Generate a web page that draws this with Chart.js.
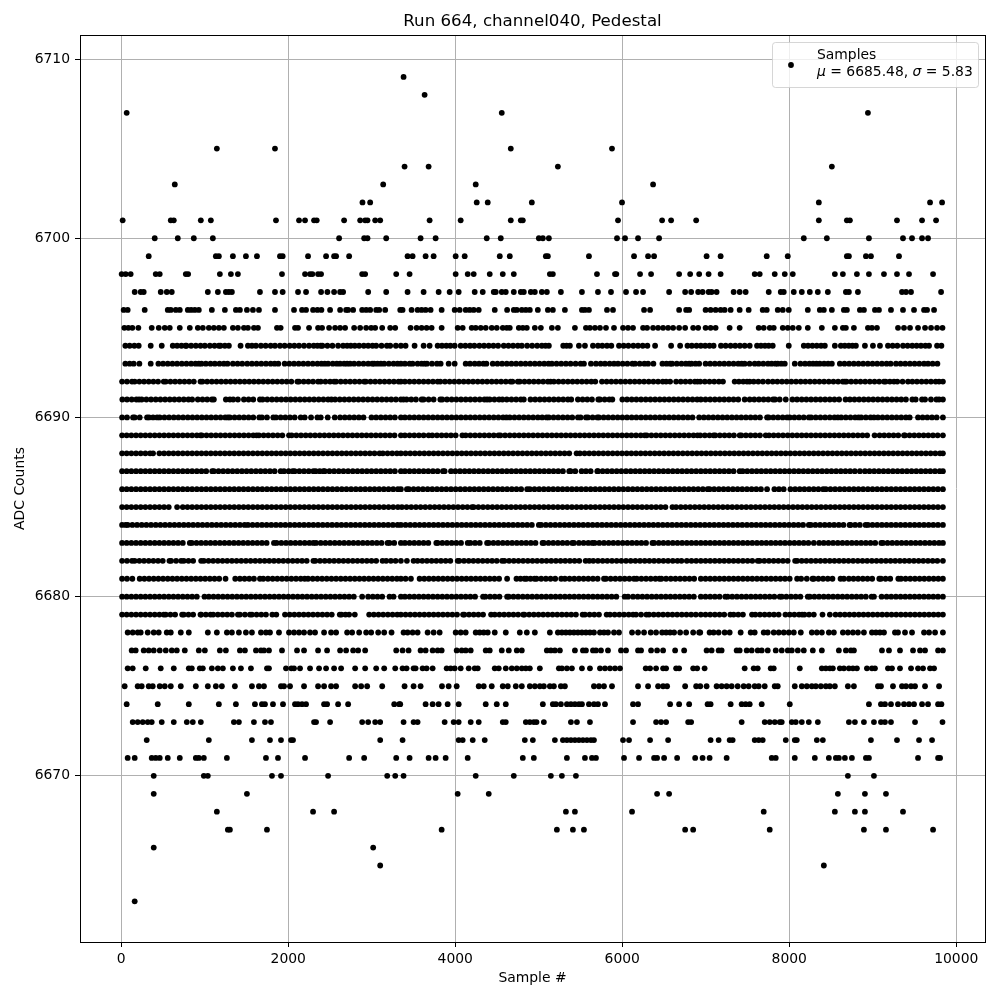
<!DOCTYPE html>
<html>
<head>
<meta charset="utf-8">
<title>Pedestal</title>
<script src="https://cdn.jsdelivr.net/npm/chart.js@4/dist/chart.umd.min.js"></script>
<style>
  html, body { margin: 0; padding: 0; background: #fff; }
  canvas { display: block; }
</style>
</head>
<body>
<canvas id="pedestalChart" width="1000" height="1000"></canvas>
<script>
const xTicks = [0, 2000, 4000, 6000, 8000, 10000];
const yTicks = [6670, 6680, 6690, 6700, 6710];

// sample numbers, one list per ADC count
const adc6709 = [3381];
const adc6708 = [3633];
const adc6707 = [65, 4557, 8942];
const adc6705 = [1145, 1841, 4665, 5877];
const adc6704 = [3393, 3681, 5229, 8510];
const adc6703 = [641, 3137, 4245, 6369];
const adc6702 = [2889, 2981, 4257, 4389, 4917, 5997, 8354, 9686, 9830];
const adc6701 = [17, 593, 629, 953, 1073, 1853, 2129, 2201, 2309, 2341, 2669, 2861, 2921, 2949, 3041, 3101, 3693, 4065, 4665, 4785, 4809, 5949, 6477, 6585, 6885, 8354, 8690, 8726, 9290, 9590, 9758];
const adc6700 = [401, 677, 869, 1097, 2609, 2909, 2949, 3173, 3585, 3765, 4377, 4545, 5001, 5049, 5121, 5937, 6033, 6189, 6441, 8174, 8450, 8954, 9362, 9470, 9590, 9662];
const adc6699 = [329, 1133, 1169, 1337, 1493, 1625, 1901, 1933, 2237, 2453, 2549, 2573, 2729, 3429, 3489, 3645, 3741, 4005, 4113, 4533, 4653, 5085, 5109, 5601, 6141, 6309, 6381, 7010, 7178, 7730, 7982, 8690, 8714, 8918, 8978, 9314];
const adc6698 = [5, 53, 113, 413, 461, 773, 801, 1181, 1313, 1397, 1925, 2201, 2261, 2289, 2357, 2393, 2885, 2921, 3293, 3453, 4005, 4149, 4221, 4413, 4569, 4701, 5133, 5169, 5697, 5913, 5929, 6213, 6345, 6681, 6813, 6921, 7034, 7178, 7586, 7646, 7826, 7946, 8042, 8546, 8642, 8810, 8954, 9134, 9290, 9434, 9722];
const adc6697 = [161, 233, 269, 473, 545, 605, 1037, 1157, 1253, 1289, 1325, 1661, 1841, 1933, 2117, 2213, 2393, 2469, 2549, 2621, 2657, 2957, 3173, 3429, 3621, 3801, 3933, 4041, 4233, 4329, 4461, 4485, 4557, 4605, 4701, 4785, 4821, 4905, 4953, 5037, 5097, 5265, 5517, 5709, 5865, 6045, 6165, 6249, 6561, 6753, 6825, 6909, 6962, 7034, 7070, 7130, 7334, 7406, 7478, 7754, 7898, 7934, 8054, 8150, 8246, 8342, 8462, 8678, 8714, 8822, 9350, 9398, 9458, 9818];
const adc6696 = [29, 77, 281, 557, 593, 653, 701, 797, 837, 881, 929, 1085, 1241, 1373, 1421, 1505, 1577, 1649, 1841, 2069, 2165, 2213, 2297, 2349, 2397, 2501, 2621, 2693, 2717, 2777, 2885, 2933, 2981, 3053, 3089, 3161, 3341, 3369, 3477, 3549, 3597, 3645, 3705, 3837, 3993, 4053, 4125, 4173, 4221, 4281, 4473, 4621, 4701, 4737, 4797, 4845, 4893, 4989, 5109, 5169, 5313, 5517, 5553, 5601, 5817, 5889, 6261, 6333, 6681, 6765, 6801, 6998, 7058, 7118, 7178, 7226, 7298, 7406, 7514, 7682, 7730, 7862, 7922, 7994, 8222, 8366, 8414, 8510, 8654, 8690, 8846, 8894, 9026, 9074, 9218, 9362, 9494, 9614, 9650, 9734];
const adc6695 = [37, 85, 133, 205, 365, 449, 521, 581, 701, 821, 917, 977, 1049, 1109, 1169, 1229, 1337, 1397, 1469, 1517, 1589, 1637, 1865, 1909, 2081, 2117, 2249, 2357, 2405, 2489, 2561, 2621, 2681, 2789, 2861, 2933, 2993, 3041, 3125, 3221, 3281, 3465, 3537, 3597, 3657, 3717, 3837, 4029, 4089, 4197, 4245, 4305, 4365, 4437, 4497, 4569, 4617, 4653, 4761, 4809, 4857, 4953, 5025, 5157, 5229, 5433, 5565, 5613, 5673, 5733, 5805, 5901, 6009, 6069, 6129, 6249, 6297, 6369, 6429, 6489, 6549, 6609, 6681, 6753, 6849, 6909, 6998, 7058, 7118, 7286, 7406, 7634, 7694, 7766, 7814, 7922, 7982, 8042, 8114, 8222, 8390, 8546, 8642, 8678, 8774, 8942, 8990, 9050, 9302, 9374, 9446, 9542, 9626, 9698, 9770, 9835];
const adc6694 = [49, 101, 157, 209, 353, 485, 617, 669, 721, 769, 781, 837, 893, 949, 1001, 1061, 1117, 1169, 1189, 1241, 1289, 1429, 1517, 1565, 1613, 1673, 1729, 1789, 1841, 1901, 1957, 2017, 2073, 2129, 2189, 2249, 2305, 2349, 2389, 2409, 2469, 2529, 2597, 2657, 2705, 2749, 2797, 2849, 2905, 2957, 3009, 3053, 3117, 3181, 3221, 3289, 3349, 3405, 3513, 3621, 3693, 3789, 3841, 3893, 3941, 3993, 4065, 4121, 4177, 4229, 4289, 4345, 4401, 4457, 4513, 4581, 4637, 4693, 4749, 4797, 4861, 4921, 4981, 5037, 5081, 5121, 5293, 5333, 5373, 5481, 5553, 5649, 5709, 5761, 5817, 5869, 5961, 6017, 6073, 6133, 6189, 6245, 6301, 6393, 6585, 6693, 6781, 6833, 6889, 6941, 6993, 7045, 7094, 7182, 7238, 7297, 7353, 7409, 7466, 7526, 7614, 7661, 7709, 7754, 7802, 7994, 8174, 8225, 8277, 8329, 8381, 8426, 8546, 8618, 8665, 8713, 8757, 8798, 8906, 9002, 9086, 9182, 9238, 9294, 9362, 9417, 9473, 9525, 9577, 9630, 9674, 9770, 9822];
const adc6693 = [49, 101, 149, 217, 353, 445, 501, 557, 613, 669, 725, 781, 837, 889, 929, 961, 1013, 1069, 1121, 1177, 1229, 1273, 1337, 1393, 1449, 1509, 1565, 1621, 1677, 1733, 1789, 1837, 1881, 1957, 2013, 2069, 2125, 2181, 2237, 2293, 2349, 2397, 2437, 2477, 2533, 2581, 2621, 2669, 2705, 2741, 2789, 2845, 2901, 2957, 3005, 3029, 3069, 3109, 3149, 3205, 3261, 3309, 3349, 3397, 3453, 3489, 3549, 3597, 3633, 3661, 3721, 3781, 3825, 3921, 3993, 4125, 4177, 4233, 4285, 4337, 4373, 4449, 4505, 4561, 4617, 4673, 4729, 4785, 4841, 4897, 4953, 5009, 5065, 5117, 5157, 5213, 5269, 5325, 5381, 5441, 5501, 5541, 5625, 5685, 5741, 5793, 5849, 5901, 5949, 6005, 6061, 6121, 6153, 6209, 6265, 6309, 6373, 6481, 6529, 6573, 6597, 6653, 6709, 6761, 6801, 6829, 6877, 6921, 6998, 7053, 7109, 7165, 7221, 7277, 7333, 7389, 7430, 7466, 7525, 7586, 7634, 7689, 7745, 7789, 7834, 7862, 7905, 7946, 8066, 8134, 8189, 8241, 8285, 8326, 8366, 8417, 8465, 8510, 8606, 8661, 8717, 8773, 8829, 8885, 8941, 8997, 9053, 9109, 9165, 9214, 9278, 9333, 9389, 9445, 9501, 9557, 9614, 9662, 9717, 9774];
const adc6692 = [10, 69, 129, 161, 217, 273, 329, 385, 441, 509, 533, 589, 645, 701, 757, 813, 869, 949, 973, 1029, 1085, 1141, 1197, 1253, 1309, 1365, 1421, 1477, 1533, 1589, 1645, 1701, 1757, 1813, 1869, 1925, 1981, 2037, 2109, 2129, 2185, 2241, 2297, 2357, 2389, 2445, 2501, 2549, 2573, 2629, 2685, 2741, 2797, 2853, 2909, 2929, 2985, 3041, 3097, 3153, 3209, 3265, 3321, 3349, 3397, 3453, 3509, 3565, 3621, 3677, 3733, 3789, 3821, 3877, 3933, 3989, 4045, 4101, 4157, 4213, 4269, 4325, 4381, 4437, 4493, 4549, 4605, 4661, 4685, 4749, 4773, 4829, 4885, 4941, 4997, 5053, 5109, 5141, 5181, 5237, 5293, 5349, 5405, 5461, 5517, 5573, 5629, 5677, 5757, 5813, 5869, 5925, 5981, 6037, 6093, 6149, 6205, 6261, 6317, 6373, 6429, 6485, 6525, 6573, 6645, 6701, 6757, 6813, 6869, 6901, 6934, 6989, 7045, 7101, 7157, 7206, 7346, 7397, 7449, 7494, 7526, 7574, 7629, 7685, 7746, 7802, 7857, 7913, 7969, 8025, 8081, 8137, 8193, 8249, 8305, 8361, 8417, 8473, 8529, 8585, 8641, 8666, 8686, 8741, 8797, 8853, 8909, 8965, 9021, 9077, 9134, 9154, 9205, 9254, 9294, 9357, 9422, 9474, 9529, 9585, 9641, 9697, 9753, 9794, 9840];
const adc6691 = [13, 69, 125, 181, 213, 245, 301, 357, 413, 469, 525, 581, 637, 693, 749, 805, 849, 917, 973, 1029, 1085, 1109, 1253, 1301, 1341, 1397, 1469, 1525, 1581, 1661, 1693, 1749, 1805, 1861, 1917, 1973, 2029, 2085, 2141, 2197, 2253, 2309, 2365, 2421, 2477, 2517, 2561, 2617, 2673, 2729, 2785, 2841, 2897, 2953, 3009, 3065, 3121, 3177, 3233, 3289, 3349, 3381, 3417, 3473, 3529, 3597, 3621, 3681, 3741, 3821, 3845, 3901, 3957, 4013, 4069, 4125, 4181, 4237, 4293, 4349, 4381, 4413, 4469, 4525, 4565, 4617, 4673, 4729, 4785, 4821, 4901, 4957, 5013, 5069, 5125, 5181, 5237, 5293, 5349, 5389, 5469, 5525, 5581, 5637, 5713, 5733, 5789, 5845, 5881, 6001, 6057, 6113, 6169, 6225, 6281, 6337, 6393, 6449, 6505, 6561, 6617, 6673, 6729, 6785, 6841, 6897, 6941, 6997, 7053, 7109, 7165, 7221, 7277, 7333, 7389, 7466, 7526, 7581, 7637, 7693, 7749, 7806, 7830, 7885, 7958, 8038, 8093, 8149, 8205, 8261, 8317, 8373, 8429, 8485, 8541, 8597, 8674, 8726, 8781, 8837, 8893, 8949, 9005, 9061, 9117, 9173, 9229, 9285, 9341, 9397, 9474, 9514, 9590, 9626, 9697, 9762, 9794, 9840];
const adc6690 = [10, 69, 141, 161, 221, 309, 333, 381, 429, 461, 517, 573, 629, 685, 741, 797, 853, 909, 965, 1021, 1077, 1133, 1189, 1245, 1277, 1301, 1357, 1413, 1469, 1525, 1581, 1653, 1685, 1745, 1821, 1853, 1909, 1965, 2021, 2077, 2149, 2197, 2273, 2349, 2389, 2473, 2557, 2621, 2677, 2733, 2789, 2845, 2901, 2997, 3053, 3109, 3165, 3221, 3277, 3349, 3397, 3453, 3509, 3565, 3621, 3677, 3733, 3789, 3845, 3901, 3957, 4013, 4069, 4125, 4181, 4237, 4293, 4349, 4405, 4461, 4517, 4573, 4613, 4653, 4709, 4765, 4821, 4877, 4933, 4989, 5041, 5093, 5121, 5177, 5233, 5289, 5345, 5401, 5469, 5501, 5565, 5589, 5645, 5701, 5721, 5777, 5833, 5889, 5945, 6001, 6057, 6113, 6169, 6225, 6281, 6337, 6393, 6449, 6505, 6561, 6617, 6673, 6729, 6785, 6841, 6921, 6977, 7033, 7089, 7145, 7201, 7257, 7313, 7369, 7425, 7481, 7537, 7593, 7649, 7734, 7754, 7809, 7865, 7921, 7974, 8006, 8061, 8117, 8173, 8234, 8262, 8317, 8373, 8429, 8485, 8541, 8582, 8622, 8677, 8733, 8789, 8830, 8862, 8917, 8973, 9014, 9062, 9117, 9173, 9229, 9285, 9341, 9397, 9442, 9542, 9597, 9653, 9709, 9765, 9840];
const adc6689 = [10, 65, 121, 177, 233, 289, 345, 401, 457, 513, 569, 625, 681, 737, 793, 849, 905, 949, 965, 1021, 1077, 1133, 1189, 1245, 1301, 1357, 1413, 1469, 1525, 1581, 1621, 1649, 1705, 1761, 1817, 1873, 1929, 2009, 2041, 2097, 2153, 2209, 2265, 2321, 2377, 2433, 2489, 2545, 2601, 2657, 2713, 2769, 2825, 2881, 2937, 2993, 3049, 3105, 3161, 3217, 3273, 3349, 3397, 3453, 3509, 3565, 3621, 3681, 3725, 3781, 3837, 3893, 3949, 4005, 4085, 4125, 4181, 4237, 4293, 4349, 4405, 4461, 4517, 4541, 4597, 4653, 4709, 4765, 4821, 4877, 4933, 4989, 5045, 5101, 5157, 5213, 5269, 5325, 5381, 5437, 5493, 5549, 5605, 5661, 5717, 5773, 5829, 5885, 5941, 5997, 6053, 6109, 6165, 6221, 6269, 6293, 6349, 6405, 6461, 6517, 6573, 6629, 6685, 6741, 6797, 6853, 6901, 6934, 6989, 7045, 7094, 7114, 7169, 7225, 7281, 7337, 7406, 7426, 7481, 7537, 7593, 7649, 7718, 7758, 7813, 7869, 7925, 7981, 8037, 8093, 8149, 8205, 8261, 8317, 8373, 8429, 8485, 8541, 8597, 8653, 8709, 8765, 8821, 8877, 8933, 9022, 9082, 9137, 9193, 9249, 9305, 9374, 9386, 9441, 9497, 9553, 9609, 9665, 9721, 9777, 9840];
const adc6688 = [10, 65, 121, 177, 233, 289, 345, 381, 457, 513, 569, 625, 681, 737, 793, 849, 905, 961, 1017, 1073, 1129, 1185, 1241, 1297, 1353, 1409, 1465, 1521, 1577, 1633, 1689, 1745, 1801, 1857, 1913, 1969, 2025, 2081, 2137, 2193, 2249, 2305, 2361, 2417, 2473, 2529, 2585, 2641, 2697, 2753, 2809, 2865, 2921, 2977, 3033, 3093, 3133, 3189, 3245, 3301, 3349, 3405, 3461, 3517, 3573, 3629, 3685, 3741, 3797, 3853, 3909, 3965, 4021, 4077, 4133, 4189, 4245, 4301, 4357, 4413, 4469, 4525, 4581, 4637, 4693, 4749, 4805, 4861, 4917, 4973, 5029, 5085, 5141, 5197, 5253, 5309, 5365, 5453, 5493, 5549, 5605, 5661, 5717, 5773, 5829, 5885, 5941, 5997, 6053, 6109, 6165, 6221, 6277, 6333, 6389, 6445, 6501, 6557, 6613, 6669, 6725, 6781, 6837, 6893, 6949, 7005, 7061, 7117, 7173, 7229, 7285, 7341, 7397, 7453, 7509, 7565, 7621, 7677, 7733, 7789, 7845, 7901, 7957, 8013, 8069, 8125, 8181, 8237, 8293, 8349, 8405, 8461, 8517, 8573, 8629, 8685, 8741, 8797, 8853, 8909, 8965, 9021, 9077, 9133, 9189, 9245, 9301, 9357, 9413, 9469, 9525, 9581, 9637, 9693, 9749, 9805, 9840];
const adc6687 = [10, 65, 121, 177, 233, 289, 345, 401, 457, 513, 569, 625, 681, 737, 793, 849, 905, 961, 1017, 1089, 1109, 1165, 1221, 1277, 1333, 1389, 1445, 1501, 1557, 1613, 1669, 1725, 1781, 1837, 1909, 1949, 2005, 2053, 2077, 2133, 2189, 2245, 2301, 2329, 2377, 2421, 2437, 2493, 2549, 2605, 2661, 2717, 2773, 2829, 2885, 2941, 2997, 3053, 3109, 3165, 3221, 3277, 3349, 3397, 3453, 3509, 3565, 3621, 3677, 3733, 3789, 3853, 3873, 3949, 4001, 4057, 4113, 4169, 4225, 4281, 4337, 4393, 4449, 4505, 4561, 4617, 4673, 4729, 4785, 4841, 4897, 4953, 5009, 5065, 5121, 5177, 5233, 5289, 5365, 5381, 5437, 5513, 5565, 5621, 5701, 5709, 5765, 5821, 5877, 5933, 5989, 6045, 6101, 6157, 6213, 6269, 6325, 6381, 6437, 6493, 6549, 6605, 6661, 6717, 6773, 6829, 6885, 6941, 6997, 7053, 7109, 7165, 7221, 7277, 7333, 7406, 7442, 7497, 7553, 7609, 7665, 7721, 7777, 7833, 7889, 7945, 8001, 8057, 8113, 8169, 8225, 8281, 8337, 8393, 8449, 8505, 8561, 8617, 8673, 8729, 8785, 8846, 8906, 8961, 9017, 9073, 9129, 9185, 9241, 9297, 9353, 9409, 9465, 9521, 9577, 9633, 9689, 9745, 9801, 9840];
const adc6686 = [10, 65, 121, 177, 233, 289, 345, 401, 457, 513, 569, 625, 681, 737, 793, 849, 905, 961, 1017, 1073, 1129, 1185, 1241, 1297, 1353, 1409, 1465, 1521, 1577, 1633, 1689, 1745, 1801, 1857, 1913, 1969, 2025, 2081, 2137, 2193, 2249, 2305, 2361, 2417, 2473, 2529, 2585, 2641, 2697, 2753, 2809, 2865, 2921, 2977, 3033, 3089, 3145, 3201, 3257, 3313, 3349, 3421, 3445, 3501, 3557, 3613, 3669, 3725, 3781, 3837, 3893, 3949, 4005, 4061, 4117, 4173, 4229, 4285, 4341, 4397, 4453, 4509, 4565, 4621, 4677, 4733, 4789, 4861, 4893, 4949, 5005, 5061, 5117, 5173, 5229, 5285, 5341, 5397, 5453, 5509, 5565, 5621, 5677, 5733, 5789, 5845, 5901, 5957, 6013, 6069, 6125, 6181, 6237, 6293, 6349, 6405, 6461, 6517, 6573, 6629, 6685, 6741, 6797, 6853, 6909, 6965, 7022, 7046, 7101, 7157, 7213, 7269, 7325, 7381, 7437, 7493, 7549, 7605, 7661, 7734, 7822, 7877, 7933, 8014, 8070, 8125, 8181, 8237, 8293, 8349, 8406, 8438, 8493, 8549, 8605, 8661, 8717, 8773, 8829, 8885, 8941, 8997, 9053, 9109, 9165, 9221, 9277, 9333, 9389, 9445, 9501, 9557, 9613, 9669, 9725, 9781, 9840];
const adc6685 = [10, 65, 121, 177, 233, 289, 345, 401, 457, 513, 569, 669, 737, 793, 849, 905, 961, 1017, 1073, 1129, 1185, 1241, 1297, 1353, 1409, 1465, 1521, 1577, 1633, 1689, 1745, 1801, 1857, 1913, 1969, 2025, 2081, 2137, 2193, 2249, 2305, 2361, 2417, 2473, 2529, 2585, 2641, 2697, 2753, 2809, 2865, 2921, 2977, 3033, 3089, 3145, 3201, 3257, 3313, 3361, 3417, 3473, 3529, 3585, 3641, 3697, 3753, 3809, 3865, 3921, 3977, 4033, 4089, 4145, 4201, 4221, 4277, 4333, 4389, 4445, 4501, 4557, 4613, 4669, 4725, 4781, 4837, 4893, 4949, 5005, 5061, 5117, 5173, 5229, 5285, 5341, 5397, 5453, 5509, 5565, 5621, 5677, 5733, 5789, 5845, 5901, 5957, 6013, 6069, 6125, 6181, 6237, 6293, 6349, 6405, 6461, 6517, 6601, 6645, 6701, 6757, 6813, 6869, 6925, 6981, 7037, 7093, 7149, 7205, 7261, 7317, 7373, 7429, 7485, 7541, 7597, 7653, 7709, 7765, 7821, 7877, 7933, 7989, 8045, 8101, 8157, 8213, 8269, 8325, 8381, 8437, 8493, 8549, 8605, 8661, 8717, 8773, 8829, 8885, 8941, 8997, 9053, 9109, 9165, 9221, 9277, 9333, 9389, 9445, 9501, 9557, 9613, 9669, 9725, 9781, 9840];
const adc6684 = [10, 53, 77, 133, 189, 245, 301, 357, 413, 469, 525, 581, 637, 693, 749, 805, 861, 917, 973, 1029, 1085, 1141, 1197, 1253, 1309, 1365, 1421, 1477, 1517, 1573, 1629, 1685, 1741, 1797, 1853, 1909, 1965, 2021, 2077, 2133, 2189, 2245, 2301, 2357, 2413, 2469, 2525, 2581, 2637, 2693, 2749, 2805, 2861, 2917, 2973, 3029, 3085, 3141, 3197, 3253, 3309, 3349, 3405, 3461, 3517, 3573, 3629, 3685, 3741, 3797, 3853, 3909, 3965, 4021, 4077, 4133, 4189, 4245, 4301, 4357, 4413, 4469, 4525, 4581, 4637, 4693, 4749, 4805, 4861, 4917, 5001, 5029, 5085, 5141, 5197, 5253, 5309, 5365, 5421, 5477, 5533, 5589, 5645, 5701, 5757, 5813, 5869, 5925, 5981, 6037, 6093, 6149, 6205, 6261, 6317, 6373, 6429, 6485, 6541, 6597, 6653, 6709, 6765, 6821, 6877, 6933, 6989, 7045, 7101, 7157, 7213, 7269, 7325, 7381, 7437, 7493, 7549, 7605, 7661, 7717, 7773, 7829, 7885, 7941, 7997, 8053, 8109, 8165, 8234, 8258, 8313, 8369, 8425, 8481, 8537, 8593, 8649, 8722, 8734, 8789, 8845, 8914, 8942, 8997, 9053, 9109, 9165, 9221, 9277, 9333, 9389, 9445, 9501, 9557, 9613, 9669, 9725, 9781, 9840];
const adc6683 = [10, 65, 121, 177, 233, 289, 345, 401, 457, 513, 569, 625, 681, 737, 821, 845, 901, 957, 1013, 1069, 1125, 1181, 1237, 1293, 1349, 1405, 1461, 1517, 1573, 1629, 1685, 1741, 1829, 1861, 1917, 1973, 2029, 2085, 2141, 2197, 2253, 2301, 2333, 2389, 2445, 2501, 2557, 2613, 2669, 2725, 2781, 2837, 2893, 2949, 3005, 3061, 3117, 3189, 3213, 3269, 3349, 3397, 3453, 3509, 3565, 3621, 3677, 3773, 3789, 3845, 3901, 3957, 4013, 4069, 4149, 4181, 4237, 4293, 4381, 4401, 4457, 4513, 4569, 4625, 4681, 4737, 4793, 4849, 4905, 4961, 5045, 5061, 5117, 5173, 5229, 5285, 5341, 5401, 5421, 5481, 5537, 5593, 5641, 5669, 5725, 5781, 5837, 5893, 5949, 6005, 6061, 6117, 6173, 6229, 6285, 6361, 6381, 6437, 6493, 6549, 6605, 6661, 6717, 6773, 6829, 6885, 6941, 6997, 7053, 7109, 7165, 7221, 7277, 7333, 7389, 7445, 7501, 7557, 7613, 7669, 7725, 7781, 7837, 7893, 7949, 8005, 8061, 8117, 8173, 8229, 8294, 8358, 8413, 8469, 8525, 8581, 8637, 8693, 8749, 8805, 8861, 8917, 8973, 9029, 9102, 9122, 9177, 9233, 9289, 9345, 9401, 9457, 9513, 9569, 9625, 9681, 9737, 9793, 9840];
const adc6682 = [10, 69, 129, 161, 217, 273, 329, 385, 441, 497, 577, 597, 657, 717, 749, 805, 861, 957, 989, 1045, 1101, 1157, 1213, 1269, 1325, 1381, 1437, 1493, 1549, 1605, 1661, 1717, 1773, 1829, 1885, 1941, 1997, 2053, 2109, 2165, 2221, 2301, 2325, 2381, 2437, 2493, 2549, 2605, 2661, 2717, 2773, 2829, 2885, 2941, 2997, 3053, 3129, 3173, 3229, 3285, 3349, 3421, 3501, 3549, 3605, 3661, 3717, 3773, 3829, 3885, 3941, 4029, 4049, 4105, 4161, 4217, 4273, 4329, 4385, 4441, 4497, 4561, 4589, 4645, 4701, 4757, 4813, 4869, 4925, 4981, 5037, 5093, 5149, 5205, 5261, 5317, 5373, 5429, 5485, 5561, 5605, 5653, 5709, 5765, 5821, 5877, 5933, 5989, 6045, 6101, 6157, 6213, 6269, 6325, 6381, 6437, 6493, 6549, 6605, 6661, 6709, 6773, 6829, 6885, 6941, 6997, 7053, 7109, 7165, 7221, 7277, 7333, 7389, 7445, 7501, 7557, 7622, 7646, 7701, 7757, 7813, 7869, 7925, 7981, 8070, 8094, 8149, 8205, 8261, 8317, 8373, 8429, 8485, 8541, 8597, 8653, 8709, 8765, 8821, 8877, 8933, 8989, 9045, 9101, 9157, 9213, 9269, 9325, 9381, 9437, 9493, 9549, 9605, 9661, 9717, 9773, 9840];
const adc6681 = [10, 69, 133, 221, 277, 333, 389, 445, 501, 557, 613, 669, 725, 781, 837, 893, 949, 1005, 1061, 1117, 1173, 1249, 1365, 1421, 1477, 1533, 1589, 1661, 1701, 1757, 1813, 1869, 1925, 1981, 2037, 2093, 2149, 2197, 2237, 2293, 2349, 2405, 2461, 2517, 2573, 2629, 2685, 2741, 2797, 2853, 2909, 2965, 3021, 3077, 3133, 3189, 3245, 3301, 3349, 3405, 3469, 3573, 3629, 3685, 3741, 3797, 3853, 3909, 3965, 4021, 4077, 4133, 4189, 4245, 4301, 4357, 4413, 4469, 4525, 4621, 4733, 4781, 4829, 4853, 4901, 4949, 4973, 5029, 5085, 5141, 5197, 5269, 5313, 5369, 5425, 5481, 5537, 5593, 5649, 5705, 5781, 5805, 5861, 5917, 5973, 6029, 6085, 6141, 6173, 6229, 6285, 6341, 6397, 6445, 6469, 6525, 6581, 6637, 6693, 6749, 6805, 6861, 6941, 6997, 7053, 7109, 7165, 7221, 7277, 7333, 7389, 7445, 7501, 7557, 7613, 7669, 7725, 7781, 7837, 7893, 7949, 8005, 8094, 8142, 8210, 8278, 8294, 8349, 8405, 8461, 8517, 8614, 8654, 8714, 8769, 8825, 8881, 8937, 8993, 9078, 9098, 9153, 9209, 9306, 9338, 9393, 9449, 9505, 9561, 9617, 9673, 9729, 9785, 9840];
const adc6680 = [10, 65, 121, 177, 233, 289, 345, 401, 457, 513, 569, 625, 681, 737, 793, 849, 905, 997, 1049, 1105, 1161, 1217, 1273, 1329, 1385, 1441, 1497, 1553, 1609, 1665, 1721, 1777, 1833, 1889, 1945, 2001, 2057, 2113, 2169, 2225, 2281, 2337, 2393, 2449, 2505, 2561, 2617, 2673, 2729, 2785, 2885, 2957, 3013, 3069, 3125, 3213, 3261, 3349, 3397, 3453, 3509, 3565, 3621, 3677, 3733, 3789, 3845, 3901, 3957, 4013, 4069, 4125, 4181, 4237, 4333, 4361, 4417, 4473, 4529, 4621, 4641, 4697, 4753, 4809, 4865, 4921, 4977, 5033, 5089, 5145, 5201, 5257, 5313, 5369, 5425, 5481, 5537, 5593, 5649, 5705, 5761, 5817, 5873, 5929, 6029, 6069, 6129, 6185, 6241, 6297, 6353, 6409, 6465, 6521, 6577, 6633, 6689, 6745, 6801, 6857, 6941, 6997, 7053, 7109, 7165, 7234, 7262, 7317, 7373, 7429, 7485, 7541, 7597, 7653, 7709, 7765, 7821, 7886, 7910, 7965, 8021, 8077, 8133, 8222, 8246, 8301, 8357, 8413, 8469, 8525, 8581, 8637, 8693, 8749, 8805, 8861, 8917, 8986, 9014, 9106, 9166, 9221, 9277, 9333, 9389, 9445, 9501, 9557, 9613, 9669, 9725, 9781, 9840];
const adc6679 = [10, 65, 121, 177, 233, 289, 345, 401, 457, 509, 533, 589, 645, 729, 749, 805, 861, 949, 957, 1013, 1069, 1101, 1157, 1213, 1269, 1325, 1397, 1421, 1481, 1541, 1565, 1621, 1677, 1733, 1809, 1857, 1961, 2017, 2073, 2129, 2185, 2241, 2297, 2353, 2409, 2465, 2521, 2617, 2637, 2685, 2729, 2797, 2969, 3025, 3081, 3137, 3193, 3249, 3305, 3349, 3405, 3461, 3517, 3573, 3629, 3685, 3741, 3797, 3853, 3909, 3965, 4021, 4093, 4109, 4165, 4221, 4277, 4333, 4429, 4473, 4529, 4585, 4641, 4697, 4753, 4813, 4829, 4885, 4941, 4997, 5053, 5109, 5165, 5221, 5277, 5333, 5389, 5445, 5525, 5553, 5609, 5665, 5721, 5813, 5853, 5909, 5965, 6021, 6077, 6129, 6165, 6225, 6289, 6321, 6377, 6433, 6489, 6545, 6601, 6657, 6713, 6769, 6825, 6881, 6941, 6997, 7053, 7109, 7165, 7221, 7294, 7334, 7389, 7445, 7554, 7594, 7649, 7705, 7761, 7817, 7873, 7954, 8006, 8061, 8117, 8154, 8182, 8237, 8294, 8398, 8486, 8554, 8609, 8665, 8721, 8777, 8833, 8889, 8945, 9001, 9057, 9113, 9169, 9225, 9281, 9337, 9393, 9449, 9505, 9561, 9617, 9673, 9729, 9785, 9840];
const adc6678 = [77, 137, 197, 233, 317, 389, 449, 545, 593, 713, 809, 1037, 1145, 1265, 1325, 1409, 1493, 1565, 1673, 1733, 1781, 1889, 2009, 2069, 2129, 2189, 2261, 2321, 2429, 2513, 2573, 2705, 2765, 2849, 2933, 2993, 3077, 3149, 3237, 3381, 3429, 3489, 3549, 3669, 3741, 3813, 4005, 4065, 4125, 4245, 4293, 4341, 4389, 4473, 4605, 4773, 4857, 4953, 5133, 5229, 5277, 5325, 5373, 5421, 5469, 5517, 5565, 5613, 5661, 5733, 5781, 5829, 5901, 5961, 6117, 6189, 6261, 6341, 6405, 6477, 6525, 6573, 6621, 6693, 6765, 6849, 6921, 6934, 7046, 7094, 7154, 7226, 7286, 7418, 7538, 7586, 7694, 7742, 7814, 7874, 7934, 7994, 8054, 8138, 8270, 8330, 8390, 8474, 8534, 8642, 8702, 8762, 8822, 8894, 8990, 9038, 9086, 9134, 9266, 9302, 9386, 9470, 9614, 9674, 9746, 9840];
const adc6677 = [125, 173, 269, 329, 389, 461, 533, 605, 665, 761, 929, 1001, 1181, 1253, 1421, 1481, 1613, 1673, 1709, 1769, 1925, 2105, 2189, 2357, 2465, 2621, 2693, 2777, 2837, 2921, 3293, 3369, 3441, 3585, 3645, 3729, 3789, 3837, 4017, 4077, 4125, 4185, 4365, 4413, 4557, 4641, 4737, 4797, 5097, 5145, 5193, 5253, 5433, 5529, 5565, 5649, 5685, 5745, 5829, 5985, 6045, 6189, 6225, 6345, 6417, 6489, 6633, 6741, 7010, 7070, 7154, 7190, 7370, 7406, 7490, 7550, 7622, 7670, 7742, 7838, 7910, 7982, 8030, 8102, 8174, 8282, 8390, 8594, 8678, 8738, 8774, 9110, 9194, 9326, 9482, 9566, 9626, 9782, 9840];
const adc6676 = [77, 137, 293, 473, 629, 809, 845, 941, 977, 1085, 1157, 1217, 1337, 1433, 1553, 1745, 1769, 1973, 2037, 2069, 2141, 2261, 2369, 2453, 2549, 2633, 2801, 2921, 3053, 3149, 3281, 3369, 3417, 3501, 3525, 3609, 3657, 3729, 3897, 3945, 3993, 4065, 4161, 4233, 4269, 4473, 4521, 4605, 4677, 4737, 4797, 4845, 4893, 5013, 5241, 5277, 5337, 5397, 5517, 5613, 5733, 5793, 5853, 5913, 5973, 6281, 6333, 6405, 6489, 6525, 6645, 6681, 6849, 6897, 6986, 7466, 7574, 7622, 7778, 7814, 8126, 8390, 8438, 8486, 8522, 8606, 8654, 8714, 8762, 8810, 8930, 8990, 9026, 9182, 9230, 9326, 9458, 9542, 9602, 9686, 9734];
const adc6675 = [41, 197, 245, 329, 377, 461, 521, 593, 713, 893, 1037, 1133, 1205, 1361, 1565, 1649, 1709, 1913, 1949, 2021, 2189, 2357, 2429, 2513, 2573, 2801, 2873, 2945, 3125, 3393, 3501, 3585, 3841, 3921, 4017, 4281, 4341, 4437, 4569, 4629, 4725, 4797, 4893, 4953, 5013, 5061, 5133, 5181, 5265, 5313, 5661, 5721, 5781, 5877, 6189, 6309, 6429, 6489, 6537, 6753, 6885, 6934, 7010, 7130, 7190, 7250, 7310, 7382, 7454, 7514, 7586, 7634, 7706, 7826, 7862, 8066, 8150, 8210, 8270, 8318, 8378, 8438, 8486, 8546, 8702, 8774, 9062, 9098, 9242, 9350, 9398, 9458, 9506, 9626, 9794];
const adc6674 = [65, 437, 809, 1169, 1373, 1601, 1685, 1721, 1817, 1937, 2081, 2117, 2165, 2213, 2429, 2465, 2597, 2717, 3269, 3329, 3341, 3645, 3729, 3801, 3909, 4041, 4365, 4497, 4605, 5049, 5169, 5205, 5265, 5337, 5385, 5433, 5481, 5517, 5601, 5661, 5709, 5793, 6129, 6189, 6573, 6681, 6801, 7022, 7058, 7298, 7430, 7478, 7526, 7670, 8006, 8954, 9098, 9146, 9218, 9302, 9374, 9434, 9494, 9590, 9662, 9782, 9822];
const adc6673 = [137, 197, 257, 317, 365, 485, 629, 785, 857, 953, 1349, 1409, 1589, 1721, 1793, 2309, 2333, 2501, 2885, 2957, 3041, 3101, 3381, 3501, 3549, 3873, 3981, 4041, 4185, 4281, 4569, 4605, 4845, 4893, 4941, 4973, 5061, 5385, 5457, 5613, 6129, 6405, 6465, 6525, 6789, 6825, 7430, 7706, 7766, 7826, 7886, 7910, 8030, 8078, 8150, 8234, 8342, 8714, 8786, 8894, 9014, 9098, 9146, 9218, 9506, 9835];
const adc6672 = [305, 1049, 1565, 1781, 1913, 2033, 2057, 3101, 3369, 4041, 4089, 4209, 4353, 4833, 4929, 5193, 5289, 5337, 5385, 5433, 5481, 5529, 5577, 5625, 5661, 6009, 6081, 6333, 6549, 7058, 7154, 7286, 7322, 7586, 7634, 7682, 7958, 8066, 8090, 8330, 8402, 8978, 9290, 9554, 9710];
const adc6671 = [77, 161, 365, 413, 461, 557, 701, 893, 929, 989, 1265, 1733, 1877, 2201, 2729, 2909, 3293, 3453, 3681, 3765, 3885, 4149, 4809, 4941, 5337, 5553, 5637, 5685, 6021, 6201, 6381, 6417, 6501, 6657, 6873, 6962, 7046, 7250, 7790, 7838, 8066, 8306, 8474, 8558, 8594, 8666, 8750, 8918, 8954, 9542, 9782, 9806];
const adc6670 = [389, 989, 1037, 1805, 1913, 2477, 3185, 3281, 3381, 4245, 4701, 5145, 5277, 5445, 8702, 9014];
const adc6669 = [389, 1505, 4029, 4401, 6417, 6561, 8582, 8906, 9158];
const adc6668 = [1145, 2297, 2549, 5325, 5433, 6117, 7694, 8546, 8786, 8906, 9362];
const adc6667 = [1277, 1301, 1745, 3837, 5217, 5409, 5541, 6753, 6849, 7766, 8894, 9158, 9722];
const adc6666 = [389, 3017];
const adc6665 = [3101, 8414];
const adc6663 = [161];

const levels = [
  [6709, adc6709], [6708, adc6708], [6707, adc6707], [6705, adc6705], [6704, adc6704], [6703, adc6703],
  [6702, adc6702], [6701, adc6701], [6700, adc6700], [6699, adc6699], [6698, adc6698], [6697, adc6697],
  [6696, adc6696], [6695, adc6695], [6694, adc6694], [6693, adc6693], [6692, adc6692], [6691, adc6691],
  [6690, adc6690], [6689, adc6689], [6688, adc6688], [6687, adc6687], [6686, adc6686], [6685, adc6685],
  [6684, adc6684], [6683, adc6683], [6682, adc6682], [6681, adc6681], [6680, adc6680], [6679, adc6679],
  [6678, adc6678], [6677, adc6677], [6676, adc6676], [6675, adc6675], [6674, adc6674], [6673, adc6673],
  [6672, adc6672], [6671, adc6671], [6670, adc6670], [6669, adc6669], [6668, adc6668], [6667, adc6667],
  [6666, adc6666], [6665, adc6665], [6663, adc6663]
];

const points = levels.flatMap(([adc, samples]) => samples.map(s => ({ x: s, y: adc })));

const FONT = '"DejaVu Sans", sans-serif';

// matplotlib style frame and legend box with the mu / sigma line
const frameAndLegend = {
  id: 'frameAndLegend',
  afterDraw(chart) {
    const { ctx, chartArea: a } = chart;
    ctx.save();
    ctx.strokeStyle = '#000';
    ctx.lineWidth = 1;
    ctx.strokeRect(a.left + 0.5, a.top + 0.5, a.right - a.left, a.bottom - a.top);

    ctx.beginPath();
    ctx.roundRect(772.5, 42.5, 206, 45, 3);
    ctx.fillStyle = 'rgba(255,255,255,0.8)';
    ctx.fill();
    ctx.strokeStyle = 'rgba(204,204,204,0.8)';
    ctx.stroke();

    ctx.fillStyle = '#000';
    ctx.beginPath();
    ctx.arc(791, 65, 2.9, 0, Math.PI * 2);
    ctx.fill();

    ctx.textBaseline = 'alphabetic';
    ctx.textAlign = 'left';
    ctx.font = '13.9px ' + FONT;
    ctx.fillText('Samples', 817, 59);
    let x = 817;
    [['μ', true], [' = 6685.48, ', false], ['σ', true], [' = 5.83', false]].forEach(([txt, italic]) => {
      ctx.font = (italic ? 'italic ' : '') + '13.9px ' + FONT;
      ctx.fillText(txt, x, 76);
      x += ctx.measureText(txt).width;
    });
    ctx.restore();
  }
};

new Chart(document.getElementById('pedestalChart'), {
  type: 'scatter',
  data: {
    datasets: [{
      label: 'Samples',
      data: points,
      backgroundColor: '#000',
      borderWidth: 0,
      pointRadius: 2.9
    }]
  },
  options: {
    responsive: false,
    animation: false,
    layout: { padding: { right: 15 } },
    plugins: {
      legend: { display: false },
      tooltip: { enabled: false },
      title: {
        display: true,
        text: 'Run 664, channel040, Pedestal',
        fullSize: false,
        color: '#000',
        font: { family: FONT, size: 16.67, weight: 'normal' },
        padding: { top: 12, bottom: 3 }
      }
    },
    scales: {
      x: {
        type: 'linear',
        min: -494,
        max: 10344,
        afterBuildTicks: s => { s.ticks = xTicks.map(v => ({ value: v })); },
        afterFit: s => { s.height = 58; },
        grid: { color: '#b0b0b0', lineWidth: 1, tickColor: '#000', tickLength: 5 },
        border: { color: '#000' },
        ticks: {
          color: '#000', padding: 4, maxRotation: 0, autoSkip: false,
          font: { family: FONT, size: 13.9 },
          callback: v => String(v)
        },
        title: {
          display: true, text: 'Sample #', color: '#000',
          font: { family: FONT, size: 13.9 },
          padding: { top: 4, bottom: 13 }
        }
      },
      y: {
        type: 'linear',
        min: 6660.73,
        max: 6711.34,
        afterBuildTicks: s => { s.ticks = yTicks.map(v => ({ value: v })); },
        afterFit: s => { s.width = 80; },
        grid: { color: '#b0b0b0', lineWidth: 1, tickColor: '#000', tickLength: 5 },
        border: { color: '#000' },
        ticks: {
          color: '#000', padding: 5, autoSkip: false,
          font: { family: FONT, size: 13.9 },
          callback: v => String(v)
        },
        title: {
          display: true, text: 'ADC Counts', color: '#000',
          font: { family: FONT, size: 13.9 },
          padding: { top: 12, bottom: 4 }
        }
      }
    }
  },
  plugins: [frameAndLegend]
});
</script>
</body>
</html>
